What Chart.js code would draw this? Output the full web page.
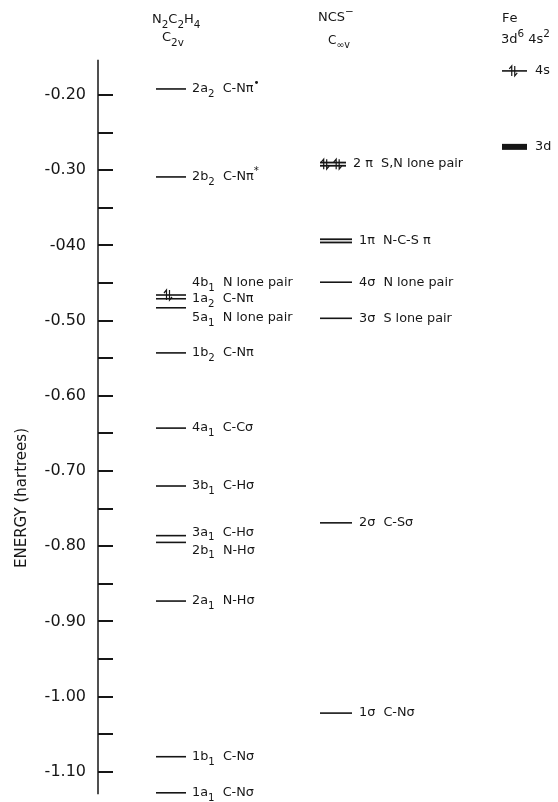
<!DOCTYPE html>
<html>
<head>
<meta charset="utf-8">
<script src="https://cdn.jsdelivr.net/npm/chart.js@4.4.0/dist/chart.umd.min.js"></script>
<style>
html,body{margin:0;padding:0;background:#fff}
#wrap{position:relative;width:558px;height:802px}
</style>
</head>
<body>
<div id="wrap"><canvas id="levels"></canvas></div>
<script>
// orbital energies in hartrees
const n2Orbitals = ["2a_2","2b_2","4b_1","1a_2","5a_1","1b_2","4a_1","3b_1","3a_1","2b_1","2a_1","1b_1","1a_1"];
const n2Character = ["C-Nπ^•","C-Nπ^*","N lone pair","C-Nπ","N lone pair","C-Nπ","C-Cσ","C-Hσ","C-Hσ","N-Hσ","N-Hσ","C-Nσ","C-Nσ"];
const n2Energy = [-0.192,-0.309,-0.466,-0.471,-0.483,-0.543,-0.643,-0.720,-0.786,-0.795,-0.873,-1.080,-1.128];

const ncsOrbitals = ["2 π","1π","4σ","3σ","2σ","1σ"];
const ncsCharacter = ["S,N lone pair","N-C-S π","N lone pair","S lone pair","C-Sσ","C-Nσ"];
const ncsEnergy = [-0.292,-0.394,-0.449,-0.497,-0.769,-1.022];

const feOrbitals = ["4s","3d"];
const feEnergy = [-0.168,-0.269];

const tickValues = [-0.20,-0.25,-0.30,-0.35,-0.40,-0.45,-0.50,-0.55,-0.60,-0.65,-0.70,-0.75,-0.80,-0.85,-0.90,-0.95,-1.00,-1.05,-1.10];
const tickLabels = ["-0.20","","-0.30","","-040","","-0.50","","-0.60","","-0.70","","-0.80","","-0.90","","-1.00","","-1.10"];

const ink = '#161616';
const face = '"DejaVu Sans", sans-serif';

// where each column sits (x in px from the axis)
const cols = {
  n2: {x1: 58, x2: 88, gap: 6},
  ncs: {x1: 222, x2: 254, gap: 7},
  fe: {x1: 404, x2: 429, gap: 8}
};
// per level drawing tweaks
const look = {
  "n2:4b_1": {dy: -12, spins: [0.4]},
  "n2:1a_2": {dy: 0},
  "n2:5a_1": {dy: 10},
  "n2:3a_1": {dy: -3},
  "n2:2b_1": {dy: 8},
  "ncs:2 π": {double: true, spins: [0.2, 0.68], x2: 248},
  "ncs:1π": {double: true},
  "fe:4s": {spins: [0.45]},
  "fe:3d": {thick: true}
};

let levels = [];
function addCol(key, names, descs, energies) {
  names.forEach((n, i) => {
    let st = look[key + ':' + n] || {};
    levels.push({col: key, name: n, text: descs ? n + '  ' + descs[i] : n, e: energies[i], st: st});
  });
}
addCol('n2', n2Orbitals, n2Character, n2Energy);
addCol('ncs', ncsOrbitals, ncsCharacter, ncsEnergy);
addCol('fe', feOrbitals, null, feEnergy);

let datasets = [];
levels.forEach(l => {
  let c = cols[l.col], x2 = l.st.x2 || c.x2;
  let pts = [{x: c.x1, y: l.e}, {x: x2, y: l.e}];
  let w = l.st.thick ? 6 : l.st.double ? 5 : 1.6;
  datasets.push({data: pts, showLine: true, borderColor: ink, borderWidth: w, pointRadius: 0, order: 1});
  if (l.st.double)
    datasets.push({data: pts, showLine: true, borderColor: '#fff', borderWidth: 1.4, pointRadius: 0, order: 0});
});

function richText(ctx, str, x, y, size) {
  let i = 0, cx = x;
  while (i < str.length) {
    let ch = str[i], mode = 0;
    if (ch === '_' || ch === '^') {
      mode = ch === '_' ? 1 : -1; i++;
      if (str[i] === '{') { let j = str.indexOf('}', i); ch = str.slice(i + 1, j); i = j + 1; }
      else { ch = str[i]; i++; }
    } else i++;
    let s = mode ? size * 0.8 : size;
    let dy = mode === 1 ? size * 0.4 : mode === -1 ? -size * 0.42 : 0;
    ctx.font = s + 'px ' + face;
    ctx.fillText(ch, cx, y + dy);
    cx += ctx.measureText(ch).width;
  }
  return cx;
}

const axisPlugin = {
  id: 'axisPlugin',
  afterDraw(chart) {
    let ctx = chart.ctx, ys = chart.scales.y, left = chart.chartArea.left;
    ctx.save();
    ctx.strokeStyle = ink;
    ctx.lineWidth = 1.5;
    ctx.beginPath();
    ctx.moveTo(left, ys.getPixelForValue(-0.153));
    ctx.lineTo(left, ys.getPixelForValue(-1.13));
    ctx.stroke();
    ctx.lineWidth = 2;
    ys.ticks.forEach(t => {
      let y = Math.round(ys.getPixelForValue(t.value));
      ctx.beginPath(); ctx.moveTo(left, y); ctx.lineTo(left + 15, y); ctx.stroke();
    });
    // axis title
    ctx.fillStyle = ink;
    ctx.translate(22, 498);
    ctx.rotate(-Math.PI / 2);
    ctx.font = '15px ' + face;
    ctx.textAlign = 'center';
    ctx.textBaseline = 'middle';
    ctx.fillText('ENERGY (hartrees)', 0, 0);
    ctx.restore();
  }
};

function spinPair(ctx, x, y) {
  ctx.beginPath();
  ctx.moveTo(x - 1.5, y + 5); ctx.lineTo(x - 1.5, y - 5); ctx.lineTo(x - 4, y - 2);
  ctx.moveTo(x + 1.5, y - 5); ctx.lineTo(x + 1.5, y + 5); ctx.lineTo(x + 4, y + 2);
  ctx.stroke();
}

const labelPlugin = {
  id: 'labelPlugin',
  afterDatasetsDraw(chart) {
    let ctx = chart.ctx, xs = chart.scales.x, ys = chart.scales.y;
    ctx.save();
    ctx.fillStyle = ink;
    ctx.strokeStyle = ink;
    ctx.lineWidth = 1.2;
    ctx.textBaseline = 'middle';
    ctx.textAlign = 'left';
    levels.forEach(l => {
      let c = cols[l.col], x2 = l.st.x2 || c.x2;
      let y = ys.getPixelForValue(l.e);
      richText(ctx, l.text, xs.getPixelForValue(x2) + c.gap, y + (l.st.dy || 0), 12.8);
      (l.st.spins || []).forEach(f => {
        spinPair(ctx, xs.getPixelForValue(c.x1 + f * (x2 - c.x1)), y);
      });
    });
    // column headers
    let hx = k => xs.getPixelForValue(cols[k].x1);
    richText(ctx, 'N_2C_2H_4', hx('n2') - 4, 20, 13);
    richText(ctx, 'C_{2v}', hx('n2') + 6, 38, 13);
    richText(ctx, 'NCS^−', hx('ncs') - 2, 18, 13);
    richText(ctx, 'C_{∞v}', hx('ncs') + 8, 41, 12);
    richText(ctx, 'Fe', hx('fe'), 19, 13);
    richText(ctx, '3d^6 4s^2', hx('fe') - 1, 40, 13);
    ctx.restore();
  }
};

new Chart(document.getElementById('levels'), {
  type: 'scatter',
  data: {datasets: datasets},
  options: {
    responsive: true,
    maintainAspectRatio: false,
    animation: false,
    events: [],
    layout: {padding: {top: 57, bottom: 4, left: 0, right: 0}},
    plugins: {legend: {display: false}, tooltip: {enabled: false}},
    scales: {
      x: {type: 'linear', display: false, min: 0, max: 460},
      y: {
        type: 'linear', position: 'left', min: -1.1349, max: -0.1495,
        afterFit: s => { s.width = 98; s.paddingTop = 0; s.paddingBottom = 0; },
        afterBuildTicks: s => { s.ticks = tickValues.map(v => ({value: v})); },
        border: {display: false},
        grid: {display: false, drawTicks: false},
        ticks: {
          autoSkip: false, padding: 12, color: ink,
          font: {family: face, size: 16},
          callback: v => {
            let k = tickValues.findIndex(t => Math.abs(t - v) < 1e-6);
            return k < 0 ? '' : tickLabels[k];
          }
        }
      }
    }
  },
  plugins: [axisPlugin, labelPlugin]
});
</script>
</body>
</html>
